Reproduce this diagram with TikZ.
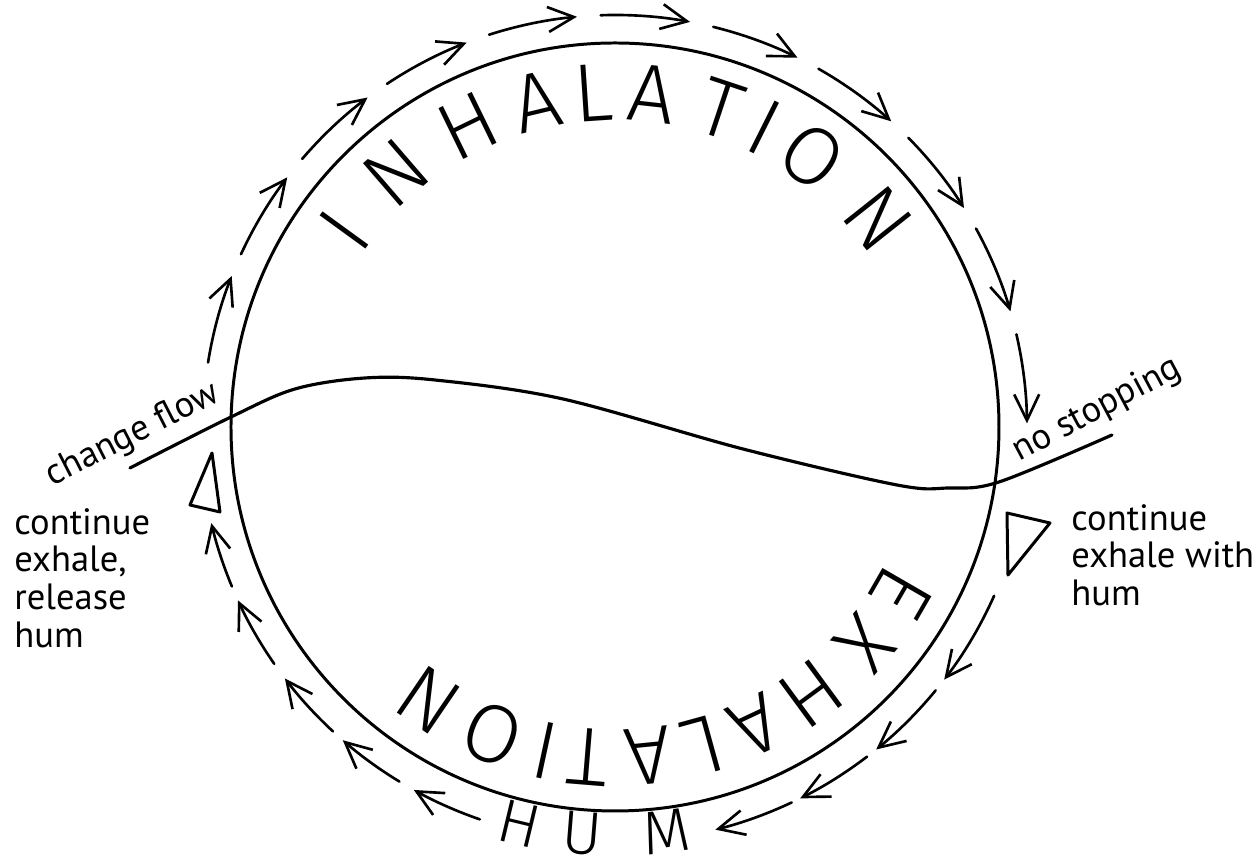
\documentclass[tikz,border=0pt]{standalone}
\usepackage{fontspec}
\setmainfont{PT Sans}
\newfontfamily\handfont{Fira Sans Light}
\usepackage{tikz}
\usetikzlibrary{arrows.meta}

\begin{document}
\begin{tikzpicture}[line width=0.85pt,
    flow/.style={line width=0.75pt, line cap=round,
      -{Straight Barb[length=2.6mm, width=2.5mm, line width=0.75pt]}},
    bigletter/.style={font=\handfont\fontsize{23.5}{23.5}\selectfont, inner sep=0pt},
    smallletter/.style={font=\handfont\fontsize{17.5}{17.5}\selectfont, inner sep=0pt},
    label/.style={font=\fontsize{10.4}{10.7}\selectfont, inner sep=0pt}]
    \useasboundingbox (-6.15,-4.31) rectangle (6.40,4.27);

    % 圆
    \draw (0,0) circle (3.84);

    % 分界线
    \draw[line width=0.9pt, line cap=round] plot[smooth, tension=0.55] coordinates {
        (-4.85,-0.41) (-3.84,0.10) (-3.20,0.38) (-2.50,0.49) (-1.80,0.47)
        (-0.52,0.28) (1.28,-0.22) (2.82,-0.58) (3.33,-0.61) (3.84,-0.55) (4.97,-0.08)};

    % 上半圈箭头
    \foreach \a in {0,...,10} {
        \pgfmathsetmacro{\s}{171-15.8*\a}
        \pgfmathsetmacro{\e}{\s-12.5}
        \draw[flow] (\s:4.12) arc[start angle=\s, end angle=\e, radius=4.12];
    }

    % 下半圈箭头
    \foreach \s/\e in {336/322.5, 320.6/309, 307.4/296.5, 295.2/284,
                       251/241, 238.7/229, 227.2/217.3, 214.8/204.7, 202.6/193.4} {
        \draw[flow] (\s:4.15) arc[start angle=\s, end angle=\e, radius=4.15];
    }

    % 字母
    \foreach \ch/\ang [count=\i] in {I/144, N/130.8, H/116, A/103.5, L/93.8,
                                     A/83.6, T/71.6, I/63.4, O/54, N/38.4} {
        \node[bigletter, rotate=\ang-90] (inh\i) at (\ang:3.35) {\ch};
    }
    \foreach \ch/\ang [count=\i] in {E/330, X/319, H/306.3, A/295.2, L/285.4,
                                     A/275.7, T/265.3, I/257.8, O/248.3, N/235.7} {
        \node[bigletter, rotate=\ang-90] (exh\i) at (\ang:3.31) {\ch};
    }
    \foreach \ch/\ang [count=\i] in {H/256.5, U/265.4, M/277.2} {
        \node[smallletter, rotate=\ang+90] (hum\i) at (\ang:4.08) {\ch};
    }

    % 三角
    \draw[line join=round] (-4.03,-0.26) -- (-4.25,-0.78) -- (-3.95,-0.85) -- cycle;
    \draw[line join=round] (3.92,-0.86) -- (4.35,-0.96) -- (3.93,-1.48) -- cycle;

    % 文字
    \node[label, rotate=27] (change) at (-4.82,-0.08) {change flow};
    \node[label, rotate=28] (nostop) at (4.82,0.17) {no stopping};
    \node[label, align=left, anchor=north west] (left) at (-6.02,-0.80)
        {continue\\exhale,\\release\\hum};
    \node[label, align=left, anchor=north west] (right) at (4.55,-0.76)
        {continue\\exhale with\\hum};
\end{tikzpicture}
\end{document}
